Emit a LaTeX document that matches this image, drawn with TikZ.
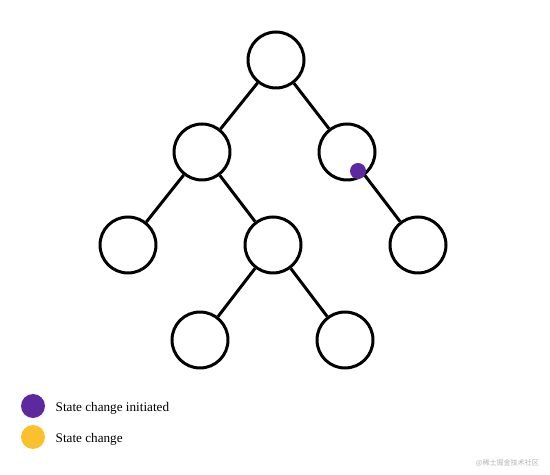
\documentclass[tikz,border=0pt]{standalone}
\usepackage{fontspec}
\usepackage{xcolor}
\usepackage{tikz}
\usetikzlibrary{calc}
\newfontfamily\cjk{Noto Sans CJK SC}
\newfontfamily\keyfont{Liberation Serif}
\definecolor{initcol}{RGB}{92,42,158}
\definecolor{changecol}{RGB}{251,192,45}

\tikzset{
  treenode/.style={circle,draw=black,line width=1.7pt,minimum size=1.12cm,inner sep=0pt},
  edge/.style={line width=1.7pt},
  keydot/.style={circle,fill=#1,inner sep=0pt,minimum size=0.48cm},
  keytext/.style={anchor=west,inner sep=0pt,font=\keyfont\fontsize{7.5}{9}\selectfont},
}

\begin{document}
\begin{tikzpicture}
						\useasboundingbox (0,0) rectangle (11,9.5);
						
						\node[treenode] (root) at (5.52,8.3) {};
						\node[treenode] (l) at (4.04,6.46) {};
						\node[treenode] (r) at (6.94,6.46) {};
						\node[treenode] (ll) at (2.56,4.6) {};
						\node[treenode] (lr) at (5.46,4.6) {};
						\node[treenode] (rr) at (8.36,4.6) {};
						\node[treenode] (lrl) at (4.0,2.7) {};
						\node[treenode] (lrr) at (6.9,2.7) {};
						
						\draw[edge] (root) -- (l);
						\draw[edge] (root) -- (r);
						\draw[edge] (l) -- (ll);
						\draw[edge] (l) -- (lr);
						\draw[edge] (r) -- (rr);
						\draw[edge] (lr) -- (lrl);
						\draw[edge] (lr) -- (lrr);
						
						\node[circle,fill=initcol,inner sep=0pt,minimum size=0.32cm] (sig) at (7.16,6.08) {};
						
						\node[keydot=initcol] (keyinit) at (0.66,1.38) {};
						\node[keydot=changecol] (keychange) at (0.66,0.76) {};
						\node[keytext] at ($(keyinit.east)+(0.2,-0.04)$) {State change initiated};
						\node[keytext] at ($(keychange.east)+(0.2,-0.04)$) {State change};
						\node[anchor=east,font=\cjk\fontsize{4}{5}\selectfont,text=gray!60] (mark) at (10.9,0.24) {@稀土掘金技术社区};
					\end{tikzpicture}
\end{document}
